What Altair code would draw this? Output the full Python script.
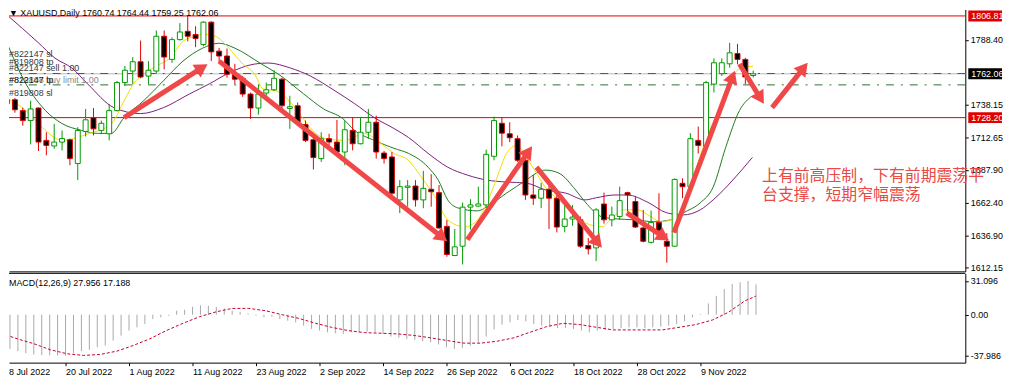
import math
import altair as alt
import pandas as pd

# ---------------- values ----------------
bar_open = [1739.0, 1742.0, 1733.6, 1725.9, 1735.6, 1710.6, 1706.3, 1709.3, 1711.1, 1692.7,
            1717.5, 1728.0, 1718.3, 1715.7, 1733.6, 1755.3, 1764.2, 1771.4, 1760.3, 1764.2,
            1791.1, 1773.2, 1788.5, 1794.9, 1792.4, 1784.7, 1802.0, 1779.6, 1775.8, 1762.2,
            1758.6, 1746.4, 1735.6, 1747.2, 1749.7, 1757.9, 1735.3, 1737.4, 1722.8, 1711.1,
            1696.5, 1711.9, 1709.3, 1701.6, 1718.3, 1708.0, 1716.9, 1724.6, 1700.8, 1697.8,
            1664.6, 1674.3, 1675.3, 1664.6, 1672.8, 1670.2, 1644.1, 1621.6, 1628.8, 1659.0,
            1659.8, 1660.7, 1698.3, 1723.8, 1715.7, 1711.9, 1695.2, 1668.4, 1665.9, 1672.8,
            1665.9, 1644.1, 1649.8, 1649.2, 1629.3, 1627.5, 1661.4, 1649.2, 1651.8, 1670.2,
            1663.3, 1642.9, 1631.8, 1647.2, 1632.6, 1628.8, 1677.4, 1674.8, 1710.6, 1706.0,
            1754.1, 1762.2, 1769.8, 1777.8, 1773.2, 1760.74]
bar_high = [1752.0, 1743.4, 1735.9, 1741.3, 1736.1, 1716.9, 1723.4, 1718.3, 1711.9, 1720.8,
            1734.9, 1735.6, 1725.9, 1738.7, 1756.6, 1768.1, 1775.0, 1787.8, 1771.9, 1795.5,
            1795.5, 1790.3, 1801.3, 1806.8, 1798.8, 1802.6, 1802.6, 1782.1, 1781.6, 1769.8,
            1760.4, 1747.6, 1753.5, 1755.3, 1764.8, 1759.1, 1745.1, 1739.9, 1725.9, 1713.1,
            1716.9, 1715.7, 1726.4, 1725.9, 1728.4, 1728.4, 1734.9, 1729.7, 1702.4, 1701.6,
            1679.9, 1679.9, 1679.9, 1687.0, 1684.5, 1676.1, 1649.2, 1642.1, 1662.5, 1665.1,
            1674.8, 1703.4, 1729.0, 1728.4, 1724.6, 1714.4, 1700.4, 1683.7, 1677.8, 1677.4,
            1670.2, 1662.0, 1660.7, 1651.8, 1635.2, 1658.2, 1670.2, 1659.4, 1674.8, 1670.9,
            1667.1, 1656.9, 1656.4, 1669.7, 1639.0, 1681.2, 1681.2, 1716.2, 1721.3, 1756.6,
            1774.0, 1774.0, 1786.0, 1785.2, 1774.4, 1764.44]
bar_low = [1734.0, 1732.0, 1722.0, 1707.5, 1702.4, 1699.1, 1704.2, 1702.9, 1691.4, 1679.9,
           1713.6, 1714.4, 1716.2, 1710.6, 1733.0, 1752.7, 1754.1, 1758.6, 1754.1, 1762.2,
           1765.5, 1770.6, 1787.8, 1787.2, 1782.7, 1783.4, 1771.9, 1770.6, 1759.1, 1754.1,
           1744.3, 1727.2, 1730.5, 1743.8, 1748.9, 1734.1, 1719.5, 1722.0, 1709.3, 1688.1,
           1694.0, 1706.7, 1700.4, 1691.4, 1702.9, 1707.5, 1711.9, 1696.5, 1692.7, 1667.1,
           1654.4, 1659.4, 1659.4, 1658.2, 1659.4, 1642.1, 1620.6, 1621.1, 1614.7, 1641.6,
           1659.4, 1658.2, 1695.2, 1706.0, 1709.3, 1694.0, 1664.6, 1660.7, 1658.2, 1642.1,
           1639.5, 1639.5, 1644.6, 1627.5, 1622.4, 1617.3, 1646.2, 1644.1, 1649.2, 1655.6,
           1642.9, 1631.8, 1630.8, 1639.0, 1616.0, 1628.3, 1665.9, 1674.8, 1700.4, 1705.5,
           1747.6, 1760.4, 1766.8, 1769.4, 1754.1, 1759.25]
bar_close = [1742.0, 1734.3, 1725.9, 1734.9, 1709.3, 1706.7, 1709.3, 1712.0, 1696.5, 1718.3,
             1726.5, 1719.5, 1723.8, 1733.6, 1755.3, 1764.8, 1771.4, 1759.6, 1764.8, 1791.1,
             1775.0, 1788.5, 1794.4, 1791.1, 1789.3, 1802.0, 1779.0, 1775.8, 1761.7, 1757.9,
             1746.4, 1735.6, 1746.4, 1749.7, 1758.6, 1737.4, 1736.6, 1724.6, 1710.6, 1697.3,
             1711.9, 1709.3, 1701.6, 1718.8, 1708.0, 1716.9, 1724.6, 1701.6, 1696.5, 1669.7,
             1674.8, 1675.3, 1664.6, 1673.5, 1670.9, 1642.9, 1622.4, 1628.3, 1659.0, 1660.7,
             1661.4, 1699.8, 1725.9, 1716.2, 1712.6, 1695.2, 1668.4, 1665.9, 1672.8, 1665.9,
             1643.6, 1649.8, 1651.3, 1628.8, 1626.7, 1656.9, 1649.2, 1652.9, 1664.0, 1668.4,
             1643.6, 1632.6, 1647.2, 1641.0, 1628.8, 1680.4, 1674.8, 1711.9, 1706.7, 1755.3,
             1770.6, 1770.6, 1778.3, 1773.2, 1759.6, 1762.06]

# moving averages, sampled along each curve (bar position, price)
fast_ma_bar = [-0.1, 2.4, 4.5, 7, 9, 10.75, 12.4, 13.6, 14.9, 16.1, 17.4, 19, 20.75, 22.4, 24,
               24.9, 26.5, 28.25, 29.9, 31.5, 32.6, 34.25, 35.9, 37.6, 38.9, 40.5, 43, 45.5,
               47.6, 49.25, 51.1, 52.75, 54.5, 56.1, 58.25, 59.9, 61.1, 62.4, 63.6, 64.9, 66.1,
               67.4, 68.6, 70.25, 72, 73.6, 75.75, 77, 78.6, 80.25, 82, 83.25, 84.5, 86.1, 87.4,
               89, 90.75, 92, 93.25, 95]
fast_ma_val = [1743.5, 1733.6, 1720.5, 1710.6, 1712.9, 1716.7, 1719.8, 1725.9, 1741.3, 1754.3,
               1762.0, 1768.1, 1774.2, 1787.2, 1791.1, 1792.6, 1791.1, 1781.9, 1770.4, 1762.0,
               1750.4, 1748.9, 1741.3, 1728.2, 1718.3, 1712.1, 1710.6, 1715.9, 1708.3, 1700.6,
               1695.2, 1682.2, 1666.9, 1649.2, 1643.8, 1649.2, 1662.3, 1682.2, 1700.6, 1706.7,
               1697.5, 1685.3, 1673.7, 1664.6, 1654.6, 1646.9, 1643.8, 1650.7, 1656.9, 1656.9,
               1651.5, 1647.7, 1649.2, 1659.2, 1682.2, 1712.0, 1735.0, 1755.0, 1766.0, 1768.0]
mid_ma_bar = [-0.1, 2.4, 4.9, 7, 9.5, 11.5, 13.25, 14.9, 17.4, 19.9, 22.4, 24.9, 27, 29, 32.4,
              34.5, 37.75, 40.25, 42.75, 44.25, 46.75, 49.25, 51.1, 53.6, 54.9, 56.1, 57.4, 59.9,
              61.1, 63.6, 66.1, 67.4, 68.6, 70.25, 72.4, 73.6, 75.75, 77.4, 79.9, 82.4, 84.5,
              86.1, 88.25, 89.9, 91.5, 93.25, 94.9]
mid_ma_val = [1787.2, 1754.3, 1733.6, 1723.6, 1718.3, 1716.0, 1716.0, 1728.2, 1741.3, 1756.6,
              1771.9, 1781.9, 1785.7, 1781.9, 1769.6, 1762.0, 1746.6, 1735.1, 1727.4, 1718.3,
              1710.6, 1704.5, 1700.6, 1689.9, 1679.9, 1664.6, 1658.4, 1656.1, 1659.2, 1669.9,
              1679.9, 1685.3, 1687.6, 1685.3, 1672.2, 1663.0, 1651.5, 1650.0, 1649.2, 1647.7,
              1649.2, 1654.6, 1662.3, 1674.5, 1705.2, 1733.6, 1745.1]
slow_ma_bar = [-0.1, 4, 6.1, 8.25, 10.25, 13.6, 17, 19.9, 23.25, 25.75, 28.25, 31.5, 33.25, 36.1,
               38.6, 41.75, 44.25, 46.75, 49.25, 51.1, 53.6, 56.1, 58.6, 61.1, 63.6, 66.1, 68.6,
               71.1, 73.6, 74.9, 77.4, 79, 81.5, 84, 86.1, 88.25, 89.9, 92.4, 94.9]
slow_ma_val = [1808.0, 1786.0, 1774.2, 1766.5, 1754.3, 1735.9, 1731.3, 1735.9, 1746.6, 1754.3,
               1762.7, 1769.6, 1770.4, 1766.5, 1760.4, 1748.9, 1739.0, 1728.2, 1719.8, 1712.9,
               1700.6, 1689.9, 1683.8, 1679.9, 1678.4, 1677.6, 1672.2, 1669.9, 1664.6, 1666.1,
               1668.4, 1668.4, 1663.0, 1654.6, 1653.0, 1656.9, 1664.6, 1679.9, 1697.5]

macd_hist = [-28.4, -31.4, -33.5, -35.4, -36.6, -37.2, -37.5, -37.7, -37.986, -35.5,
             -33.5, -32.3, -29.9, -28.4, -23.8, -19.2, -14.6, -11.6, -8.5, -4.0,
             -2.4, -0.9, 3.7, 4.6, 7.3, 8.5, 8.2, 7.3, 5.8, 3.7,
             2.7, 1.2, -0.9, -2.4, -1.8, -4.0, -5.5, -7.0, -10.1, -13.1,
             -14.6, -16.2, -17.1, -17.7, -16.2, -16.2, -15.5, -16.2, -17.7, -20.1,
             -21.3, -22.3, -23.2, -24.4, -25.3, -27.4, -29.9, -31.4, -30.5, -28.4,
             -25.5, -20.0, -13.5, -9.1, -7.0, -4.9, -6.1, -8.5, -10.1, -11.0,
             -12.2, -12.2, -13.1, -14.6, -16.2, -14.6, -14.0, -13.1, -12.2, -11.6,
             -11.6, -12.2, -11.6, -11.0, -10.1, -8.5, -6.1, -2.4, 0.6, 10.4,
             17.4, 23.5, 28.4, 29.8, 31.096, 27.956]
signal_bar = [-0.125, 1.96, 4.04, 6.1, 8.2, 10.3, 12.4, 14.5, 16.5, 18.6, 20.7, 22.8, 24.9, 27,
              29, 31.1, 33.2, 35.3, 37.4, 39.5, 41.5, 43.6, 45.7, 47.8, 49.9, 52, 54, 56.1,
              58.2, 60.3, 62.4, 64.5, 66.5, 68.6, 70.7, 72.8, 74.9, 77, 79, 81.1, 83.2, 85.3,
              87.4, 89.5, 91.5, 93.6, 95]
signal_val = [-17.1, -22.3, -26.8, -32.3, -36.0, -37.5, -36.6, -33.5, -28.4, -22.3, -14.6,
              -7.9, -1.8, 2.7, 5.8, 5.8, 3.7, 0.0, -3.4, -7.9, -11.6, -14.6, -16.5, -17.1,
              -17.7, -19.2, -21.3, -23.8, -26.2, -26.2, -24.4, -21.3, -16.2, -11.0, -7.9, -9.1,
              -11.6, -14.0, -14.0, -14.0, -14.0, -11.6, -9.1, -4.9, 2.1, 12.8, 17.19]

date_tick_bars = [0, 8, 16, 24, 32, 40, 48, 56, 64, 72, 80, 88]
date_labels = ["8 Jul 2022", "20 Jul 2022", "1 Aug 2022", "11 Aug 2022", "23 Aug 2022",
               "2 Sep 2022", "14 Sep 2022", "26 Sep 2022", "6 Oct 2022", "18 Oct 2022",
               "28 Oct 2022", "9 Nov 2022"]
price_ticks = [1788.40, 1738.15, 1712.65, 1687.90, 1662.40, 1636.90, 1612.15]
macd_ticks = [31.096, 0.0, -37.986]

resistance = 1806.81
support = 1728.20
bid = 1762.06
order_line_prices = [1762.3, 1753.5]
order_texts = ["#822147 sl", "#819808 tp", "#822147 sell 1.00", "#819808 buy limit 1.00",
               "#822147 tp", "#819808 sl"]
order_text_prices = [1777.3, 1771.1, 1766.9, 1757.3, 1757.3, 1747.4]
order_text_colors = ["#3a3a3a", "#3a3a3a", "#3a3a3a", "#8a8a8a", "#202020", "#3a3a3a"]

arrow_bar0 = [14.9, 27.0, 58.6, 67.4, 78.9, 84.9, 93.25, 97.4]
arrow_p0 = [1728.2, 1771.9, 1633.9, 1689.9, 1654.6, 1639.2, 1769.6, 1735.9]
arrow_bar1 = [25.75, 56.25, 67.0, 75.9, 84.5, 92.75, 96.5, 102.1]
arrow_p1 = [1770.4, 1631.6, 1707.4, 1626.3, 1632.3, 1766.0, 1737.4, 1771.9]

note_lines = ["上有前高压制，下有前期震荡平", "台支撑，短期窄幅震荡"]
note_bar = [96.125, 96.125]
note_prices = [1683.3, 1668.0]

title_text = "▼ XAUUSD,Daily  1760.74 1764.44 1759.25 1762.06"
macd_text = "MACD(12,26,9) 27.956 17.188"

# ---------------- layout & style ----------------
PLOT_W = 964
PRICE_H = 264
MACD_H = 90
X_DOMAIN = [0.875, 121.375]
P_DOMAIN = [1609.34, 1811.80]
M_DOMAIN = [-44.15, 38.10]
PX_PER_BAR = PLOT_W / (X_DOMAIN[1] - X_DOMAIN[0])
PX_PER_USD = PRICE_H / (P_DOMAIN[1] - P_DOMAIN[0])

FONT = "Liberation Sans"
CJK = "Noto Sans CJK SC"
UP = "#009a00"
DOWN = "#e00000"
LEVEL_RED = "#e00000"
ARROW = "#f04848"
NOTE_RED = "#e84a46"

xs = alt.Scale(domain=X_DOMAIN, nice=False, zero=False)
ps = alt.Scale(domain=P_DOMAIN, nice=False, zero=False)
ms = alt.Scale(domain=M_DOMAIN, nice=False, zero=False)

px_axis = alt.Axis(title=None, labels=False, ticks=False, grid=False, domain=True,
                   domainColor="#000000", domainWidth=1)
py_axis = alt.Axis(title=None, orient="right", values=price_ticks, format=".2f", grid=False,
                   domainColor="#000000", tickColor="#000000", tickSize=3, labelPadding=2,
                   labelFont=FONT, labelFontSize=9, labelColor="#000000", labelOverlap=False)
date_js = "[" + ",".join("'" + s + "'" for s in date_labels) + "]"
mx_axis = alt.Axis(title=None, orient="bottom", values=date_tick_bars[1:],
                   labelExpr=date_js + "[round(datum.value / 8)]", labelAlign="left",
                   labelFlush=False, labelOverlap=False, grid=False, domainColor="#000000",
                   tickColor="#000000", tickSize=3, labelPadding=2, labelFont=FONT,
                   labelFontSize=9, labelColor="#000000")
my_axis = alt.Axis(title=None, orient="right", values=macd_ticks, grid=False,
                   labelExpr="datum.value < 0 ? '-' + format(-datum.value, '.3f') : "
                             "(datum.value == 0 ? '0.00' : format(datum.value, '.3f'))",
                   domainColor="#000000", tickColor="#000000", tickSize=3, labelPadding=2,
                   labelFont=FONT, labelFontSize=9, labelColor="#000000", labelOverlap=False)


def PX(f):
    return alt.X(f, type="quantitative", scale=xs, axis=px_axis)


def PY(f):
    return alt.Y(f, type="quantitative", scale=ps, axis=py_axis)


def MX(f):
    return alt.X(f, type="quantitative", scale=xs, axis=mx_axis)


def MY(f):
    return alt.Y(f, type="quantitative", scale=ms, axis=my_axis)


# ---------------- price panel ----------------
n = len(bar_close)
candles = pd.DataFrame({"i": list(range(n)), "open": bar_open, "high": bar_high,
                        "low": bar_low, "close": bar_close})
candles["up"] = candles["close"] >= candles["open"]

red_rules = alt.Chart(pd.DataFrame({"p": [resistance, support]})).mark_rule(
    color=LEVEL_RED, strokeWidth=1).encode(y=PY("p"))
bid_rule = alt.Chart(pd.DataFrame({"p": [bid]})).mark_rule(
    color="#b8b8b8", strokeWidth=1).encode(y=PY("p"))
order_rules = alt.Chart(pd.DataFrame({"p": order_line_prices})).mark_rule(
    color="#2e6e2e", strokeWidth=1, strokeDash=[8, 7, 2, 7]).encode(y=PY("p"))


def ma_line(bars, vals, color):
    df = pd.DataFrame({"i": bars, "v": vals})
    return alt.Chart(df).mark_line(color=color, strokeWidth=1, clip=True,
                                   interpolate="monotone").encode(x=PX("i"), y=PY("v"))


ma_slow = ma_line(slow_ma_bar, slow_ma_val, "#7b1f7b")
ma_mid = ma_line(mid_ma_bar, mid_ma_val, "#1f7a1f")
ma_fast = ma_line(fast_ma_bar, fast_ma_val, "#eee000")

wick = alt.Chart(candles).mark_rule(strokeWidth=1, clip=True).encode(
    x=PX("i"), y=PY("low"), y2="high",
    color=alt.condition("datum.up", alt.value(UP), alt.value(DOWN)))
body = alt.Chart(candles).mark_bar(size=5, strokeWidth=1, clip=True).encode(
    x=PX("i"), y=PY("open"), y2="close",
    fill=alt.condition("datum.up", alt.value("#ffffff"), alt.value("#000000")),
    stroke=alt.condition("datum.up", alt.value(UP), alt.value(DOWN)))

HEAD_SIZE = 230
tip_back = 1.1547 * math.sqrt(HEAD_SIZE) / 2
rows = []
for x0, p0, x1, p1 in zip(arrow_bar0, arrow_p0, arrow_bar1, arrow_p1):
    dx = (x1 - x0) * PX_PER_BAR
    dy = -(p1 - p0) * PX_PER_USD
    L = math.hypot(dx, dy)
    ux, uy = dx / L, dy / L
    ang = math.degrees(math.atan2(ux, -uy)) % 360
    rows.append({"x0": x0, "p0": p0,
                 "cx": x1 - tip_back * ux / PX_PER_BAR,
                 "cp": p1 + tip_back * uy / PX_PER_USD,
                 "ang": ang})
arrows = pd.DataFrame(rows)
shaft = alt.Chart(arrows).mark_rule(strokeWidth=5, color=ARROW, clip=True).encode(
    x=PX("x0"), y=PY("p0"), x2="cx", y2="cp")
head = alt.Chart(arrows).mark_point(shape="triangle-up", filled=True, size=HEAD_SIZE,
                                    color=ARROW, opacity=1, strokeWidth=0).encode(
    x=PX("cx"), y=PY("cp"), angle=alt.Angle("ang:Q", scale=None))

title_t = alt.Chart(pd.DataFrame({"t": [title_text]})).mark_text(
    align="left", baseline="top", font=FONT, fontSize=9, color="#000000").encode(
    x=alt.value(0), y=alt.value(0), text="t:N")
orders_t = alt.Chart(pd.DataFrame({"t": order_texts, "p": order_text_prices,
                                   "c": order_text_colors})).mark_text(
    align="left", baseline="middle", font=FONT, fontSize=9).encode(
    x=alt.value(0), y=PY("p"), text="t:N", color=alt.Color("c:N", scale=None))
note_t = alt.Chart(pd.DataFrame({"t": note_lines, "i": note_bar, "p": note_prices})).mark_text(
    align="left", baseline="middle", font=CJK, fontSize=16, color=NOTE_RED).encode(
    x=PX("i"), y=PY("p"), text="t:N")

tags = pd.DataFrame({"t": ["1806.81", "1762.06", "1728.20"],
                     "p": [resistance, bid, support],
                     "c": ["#e00000", "#000000", "#e00000"]})
TAG_SHAPE = "M-1,-0.3235L1,-0.3235L1,0.3235L-1,0.3235Z"
tag_pts = alt.Chart(tags).mark_point(shape=TAG_SHAPE, filled=True, size=34 * 34,
                                     opacity=1, strokeWidth=0).encode(
    x=alt.value(984), y=PY("p"), color=alt.Color("c:N", scale=None))
tag_txt = alt.Chart(tags).mark_text(align="left", baseline="middle", font=FONT, fontSize=9,
                                    color="#ffffff").encode(
    x=alt.value(970), y=PY("p"), text="t:N")

price = alt.layer(red_rules, bid_rule, order_rules, ma_slow, ma_mid, ma_fast, wick, body,
                  shaft, head, title_t, orders_t, note_t, tag_pts, tag_txt).properties(
    width=PLOT_W, height=PRICE_H)

# ---------------- MACD panel ----------------
hist = pd.DataFrame({"i": list(range(n)), "h": macd_hist, "z": [0.0] * n})
hist_rules = alt.Chart(hist).mark_rule(color="#a8a8a8", strokeWidth=1, clip=True).encode(
    x=MX("i"), y=MY("z"), y2="h")
signal = alt.Chart(pd.DataFrame({"i": signal_bar, "v": signal_val})).mark_line(
    color="#c4002a", strokeWidth=1, strokeDash=[3, 2], clip=True).encode(
    x=MX("i"), y=MY("v"))
top_border = alt.Chart(pd.DataFrame({"v": [M_DOMAIN[1]]})).mark_rule(
    color="#000000", strokeWidth=1).encode(y=MY("v"))
macd_t = alt.Chart(pd.DataFrame({"t": [macd_text]})).mark_text(
    align="left", baseline="middle", font=FONT, fontSize=9, color="#000000").encode(
    x=alt.value(0), y=alt.value(10), text="t:N")
first_date = alt.Chart(pd.DataFrame({"t": [date_labels[0]]})).mark_text(
    align="left", baseline="top", font=FONT, fontSize=9, color="#000000").encode(
    x=alt.value(0), y=alt.value(MACD_H + 5), text="t:N")

macd = alt.layer(hist_rules, signal, top_border, macd_t, first_date).properties(
    width=PLOT_W, height=MACD_H)

chart = alt.vconcat(price, macd, spacing=2, bounds="flush").properties(
    padding=0, background="white").configure_view(strokeWidth=0)

chart.save("out.html", embed_options={"renderer": "svg", "actions": False})
